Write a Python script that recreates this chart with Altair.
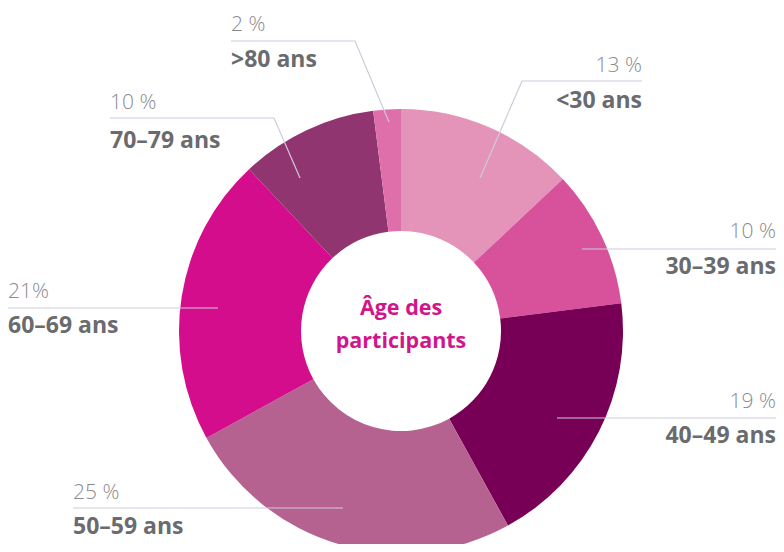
import altair as alt
import pandas as pd

# ---- data ----
categories = ["<30 ans", "30-39 ans", "40-49 ans", "50-59 ans", "60-69 ans", "70-79 ans", ">80 ans"]
labels = ["<30 ans", "30–39 ans", "40–49 ans", "50–59 ans", "60–69 ans", "70–79 ans", ">80 ans"]
values = [13, 10, 19, 25, 21, 10, 2]
pct_text = ["13 %", "10 %", "19 %", "25 %", "21%", "10 %", "2 %"]
colors = ["#e394b8", "#d7529b", "#770056", "#b66290", "#d30d8c", "#913571", "#df6fab"]

# ---- layout (page pixel coordinates) ----
label_x = [642, 776, 776, 73, 8, 110, 231]
label_align = ["right", "right", "right", "left", "left", "left", "left"]
pct_y = [72, 238, 408, 499, 298, 109, 31]
lab_y = [108, 274, 443, 534, 333, 148, 67]
leaders = [
    [(642, 81), (522, 81), (480, 178)],
    [(582, 249), (776, 249)],
    [(557, 418), (776, 418)],
    [(73, 508), (343, 508)],
    [(8, 308), (218, 308)],
    [(110, 118), (274, 118), (300, 178)],
    [(231, 41), (355, 41), (389, 122)],
]
cx, cy = 401, 331

W, H = 768, 536
xs = alt.Scale(domain=[8, 8 + W], range=[0, W])
ys = alt.Scale(domain=[8, 8 + H], range=[0, H])
FONT = "Open Sans"

pie_df = pd.DataFrame({"cat": categories, "value": values, "order": list(range(len(values)))})

arc = alt.Chart(pie_df).mark_arc(outerRadius=222, innerRadius=100).encode(
    theta=alt.Theta("value:Q", stack=True),
    order=alt.Order("order:Q"),
    color=alt.Color("cat:N", scale=alt.Scale(domain=categories, range=colors), legend=None),
    x=alt.value(cx - 8),
    y=alt.value(cy - 8),
)

lead_rows = []
for i, pts in enumerate(leaders):
    for j, (px, py) in enumerate(pts):
        lead_rows.append({"g": i, "k": j, "x": px, "y": py})
lead_df = pd.DataFrame(lead_rows)

lead = alt.Chart(lead_df).mark_line(color="#cdcbdc", strokeWidth=1.2).encode(
    x=alt.X("x:Q", scale=xs, axis=None),
    y=alt.Y("y:Q", scale=ys, axis=None),
    detail="g:N",
    order="k:Q",
)

txt_df = pd.DataFrame({
    "x": label_x, "align": label_align, "pct": pct_text, "lab": labels,
    "py": pct_y, "ly": lab_y,
})

layers = [arc, lead]
for al in ["left", "right"]:
    sub = txt_df[txt_df["align"] == al]
    layers.append(
        alt.Chart(sub).mark_text(align=al, baseline="alphabetic", font=FONT, fontSize=21,
                                 fontWeight=300, color="#8a8a8e").encode(
            x=alt.X("x:Q", scale=xs, axis=None), y=alt.Y("py:Q", scale=ys, axis=None), text="pct:N")
    )
    layers.append(
        alt.Chart(sub).mark_text(align=al, baseline="alphabetic", font=FONT, fontSize=23,
                                 fontWeight="bold", color="#6a6b6e").encode(
            x=alt.X("x:Q", scale=xs, axis=None), y=alt.Y("ly:Q", scale=ys, axis=None), text="lab:N")
    )

center_df = pd.DataFrame({"t": ["Âge des", "participants"], "x": [cx, cx], "y": [315, 348]})
center = alt.Chart(center_df).mark_text(align="center", baseline="alphabetic", font=FONT,
                                        fontSize=21.5, fontWeight="bold", color="#d1168c").encode(
    x=alt.X("x:Q", scale=xs, axis=None), y=alt.Y("y:Q", scale=ys, axis=None), text="t:N")
layers.append(center)

chart = alt.layer(*layers).properties(width=W, height=H, padding=0, autosize="none").configure_view(
    stroke=None).resolve_scale(color="independent")

chart.save("out.html", embed_options={"renderer": "svg", "actions": False})
